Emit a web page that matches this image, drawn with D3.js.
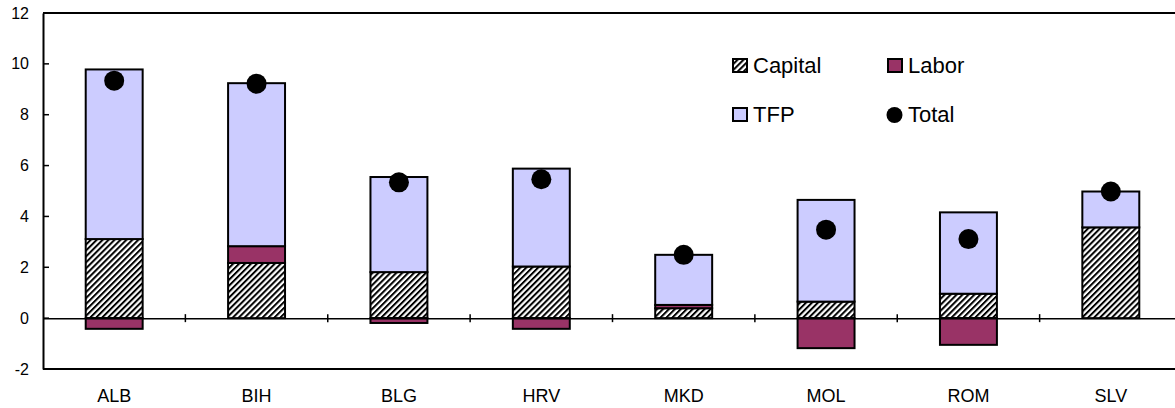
<!DOCTYPE html>
<html>
<head>
<meta charset="utf-8">
<script src="https://cdn.jsdelivr.net/npm/d3@7"></script>
<style>
  body { margin: 0; background: #fff; }
  svg { display: block; font-family: "Liberation Sans", Arial, sans-serif; }
</style>
</head>
<body>
<svg width="1175" height="408"></svg>
<script>
var countries = ["ALB", "BIH", "BLG", "HRV", "MKD", "MOL", "ROM", "SLV"];
var capital = [3.11, 2.17, 1.81, 2.03, 0.39, 0.65, 0.96, 3.57];
var labor = [-0.42, 0.66, -0.19, -0.42, 0.13, -1.18, -1.05, 0];
var tfp = [6.67, 6.41, 3.74, 3.85, 1.97, 4.0, 3.2, 1.41];
var total = [9.34, 9.22, 5.34, 5.46, 2.49, 3.48, 3.11, 4.98];
var yTicks = [-2, 0, 2, 4, 6, 8, 10, 12];

var svg = d3.select("svg"),
    margin = {left: 43, top: 13, right: -7, bottom: 39},
    width = +svg.attr("width") - margin.left - margin.right,
    height = +svg.attr("height") - margin.top - margin.bottom;

var defs = svg.append("defs");
var pat = defs.append("pattern")
    .attr("id", "hatch")
    .attr("patternUnits", "userSpaceOnUse")
    .attr("width", 4.2).attr("height", 4.2)
    .attr("patternTransform", "rotate(45)");
pat.append("rect").attr("width", 4.2).attr("height", 4.2).attr("fill", "#fff");
pat.append("rect").attr("width", 2).attr("height", 4.2).attr("fill", "#000");

var g = svg.append("g").attr("transform", "translate(" + margin.left + "," + margin.top + ")");

var x = d3.scaleBand().domain(countries).range([0, width]).paddingInner(0.6).paddingOuter(0.3);
var xb = d3.scaleBand().domain(countries).range([0, width]);
var y = d3.scaleLinear().domain([-2, 12]).range([height, 0]);

// build stacked segments: capital & labor from zero, tfp on top of positives
var rows = countries.map(function (c, i) {
    var segs = [];
    segs.push({key: "capital", y0: 0, y1: capital[i]});
    var posTop = capital[i];
    if (labor[i] >= 0) {
        segs.push({key: "labor", y0: posTop, y1: posTop + labor[i]});
        posTop += labor[i];
    } else {
        segs.push({key: "labor", y0: labor[i], y1: 0});
    }
    segs.push({key: "tfp", y0: posTop, y1: posTop + tfp[i]});
    return {c: c, segs: segs, total: total[i]};
});

var fills = {capital: "url(#hatch)", labor: "#993366", tfp: "#ccccff"};

// frame lines
g.append("line").attr("x1", 0).attr("x2", width).attr("y1", 0).attr("y2", 0)
    .attr("stroke", "#000").attr("stroke-width", 2);
g.append("line").attr("x1", 0).attr("x2", width).attr("y1", height).attr("y2", height)
    .attr("stroke", "#000").attr("stroke-width", 2);

// y axis
var yAxis = g.append("g").call(d3.axisLeft(y).tickValues(yTicks).tickSize(0).tickPadding(14)
    .tickFormat(function (d) { return String(d); }));
yAxis.select(".domain").attr("stroke-width", 2);
yAxis.selectAll("text").attr("font-size", 16).attr("fill", "#000")
    .attr("font-family", "Liberation Sans, Arial, sans-serif");
g.append("g").selectAll("line").data(yTicks).enter().append("line")
    .attr("x1", 0).attr("x2", 6).attr("y1", function (d) { return y(d); }).attr("y2", function (d) { return y(d); })
    .attr("stroke", "#000").attr("stroke-width", 1.5);

// bars
var bar = g.selectAll(".bar").data(rows).enter().append("g").attr("class", "bar");
bar.selectAll("rect").data(function (d) { return d.segs.filter(function (s) { return s.y1 !== s.y0; }).map(function (s) { s.c = d.c; return s; }); })
    .enter().append("rect")
    .attr("x", function (d) { return x(d.c); })
    .attr("width", x.bandwidth())
    .attr("y", function (d) { return y(d.y1); })
    .attr("height", function (d) { return y(d.y0) - y(d.y1); })
    .attr("fill", function (d) { return fills[d.key]; })
    .attr("stroke", "#000").attr("stroke-width", 2);

// zero axis with category ticks
var xAxis = g.append("g").attr("transform", "translate(0," + y(0) + ")")
    .call(d3.axisBottom(xb).tickSize(0).tickFormat(""));
xAxis.select(".domain").attr("stroke-width", 1.5);
g.append("g").selectAll("line").data(countries.slice(1)).enter().append("line")
    .attr("x1", function (d) { return xb(d); }).attr("x2", function (d) { return xb(d); })
    .attr("y1", y(0) - 4).attr("y2", y(0) + 4)
    .attr("stroke", "#000").attr("stroke-width", 1.5);

// category labels
g.append("g").attr("transform", "translate(0," + height + ")")
    .call(d3.axisBottom(xb).tickSize(0).tickPadding(20))
    .call(function (a) { a.select(".domain").remove(); })
    .selectAll("text").attr("font-size", 18).attr("fill", "#000")
    .attr("font-family", "Liberation Sans, Arial, sans-serif");

// total dots
g.selectAll(".dot").data(rows).enter().append("circle")
    .attr("cx", function (d) { return x(d.c) + x.bandwidth() / 2; })
    .attr("cy", function (d) { return y(d.total); })
    .attr("r", 10).attr("fill", "#000");

// legend
var legendItems = [
    {label: "Capital", key: "capital", lx: 732, ly: 58},
    {label: "Labor", key: "labor", lx: 887, ly: 58},
    {label: "TFP", key: "tfp", lx: 732, ly: 107},
    {label: "Total", key: "total", lx: 887, ly: 107}
];
var leg = svg.append("g").selectAll("g").data(legendItems).enter().append("g")
    .attr("transform", function (d) { return "translate(" + d.lx + "," + d.ly + ")"; });
leg.filter(function (d) { return d.key !== "total"; }).append("rect")
    .attr("x", 1).attr("y", 1).attr("width", 14).attr("height", 13)
    .attr("fill", function (d) { return fills[d.key]; })
    .attr("stroke", "#000").attr("stroke-width", 2);
leg.filter(function (d) { return d.key === "total"; }).append("circle")
    .attr("cx", 7.5).attr("cy", 8).attr("r", 8).attr("fill", "#000");
leg.append("text").attr("x", 21).attr("y", 15)
    .attr("font-size", 22).attr("fill", "#000")
    .text(function (d) { return d.label; });
</script>
</body>
</html>
